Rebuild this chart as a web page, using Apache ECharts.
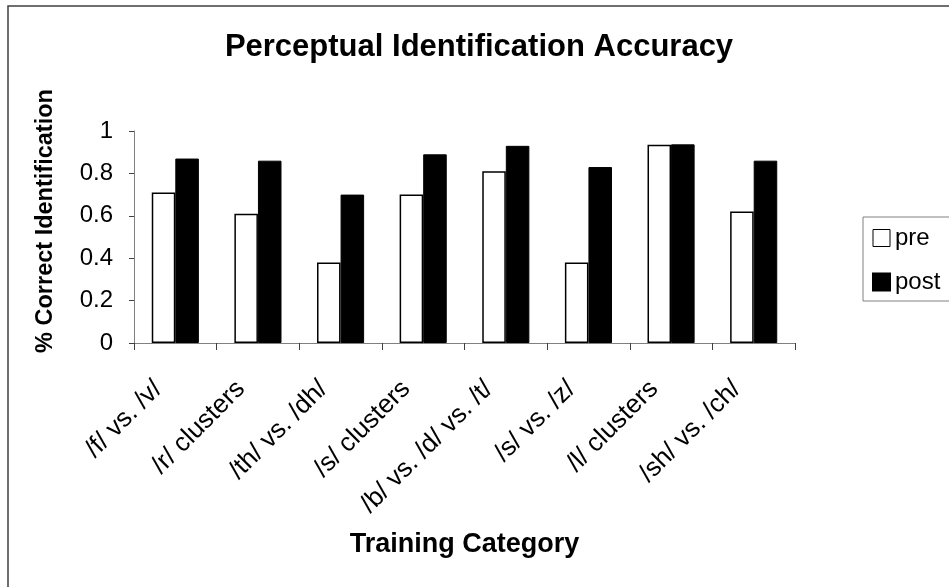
<!DOCTYPE html>
<html>
<head>
<meta charset="utf-8">
<script src="https://cdn.jsdelivr.net/npm/echarts@6/dist/echarts.min.js"></script>
<style>
  html, body { margin: 0; padding: 0; background: #fff; }
  #chart { width: 949px; height: 587px; }
</style>
</head>
<body>
<div id="chart"></div>
<script>
// Training categories along the x axis
const categories = ['/f/ vs. /v/', '/r/ clusters', '/th/ vs. /dh/', '/s/ clusters',
  '/b/ vs. /d/ vs. /t/', '/s/ vs. /z/', '/l/ clusters', '/sh/ vs. /ch/'];
// Proportion correct before and after training
const preValues = [0.71, 0.61, 0.38, 0.70, 0.81, 0.38, 0.935, 0.62];
const postValues = [0.87, 0.86, 0.70, 0.89, 0.93, 0.83, 0.937, 0.86];
const yTicks = [0, 0.2, 0.4, 0.6, 0.8, 1];

const FONT = '"Liberation Sans", Arial, sans-serif';
const chart = echarts.init(document.getElementById('chart'));

chart.setOption({
  backgroundColor: '#fff',
  animation: false,
  title: {
    text: 'Perceptual Identification Accuracy',
    left: 474,
    top: 27,
    textAlign: 'center',
    textStyle: { fontFamily: FONT, fontSize: 31, fontWeight: 'bold', color: '#000' }
  },
  legend: {
    orient: 'vertical',
    left: 863,
    top: 217,
    padding: [9, 10, 7, 9],
    itemGap: 20,
    itemWidth: 17,
    itemHeight: 17,
    borderColor: '#808080',
    borderWidth: 1,
    icon: 'rect',
    textStyle: { fontFamily: FONT, fontSize: 24, color: '#000' },
    data: [
      { name: 'pre', itemStyle: { color: '#fff', borderColor: '#000', borderWidth: 1 } },
      { name: 'post', itemStyle: { color: '#000' } }
    ]
  },
  grid: { left: 134, right: 154, top: 131, bottom: 244, containLabel: false },
  xAxis: {
    type: 'category',
    data: categories,
    name: 'Training Category',
    nameLocation: 'middle',
    nameGap: 188,
    nameTextStyle: { fontFamily: FONT, fontSize: 27, fontWeight: 'bold', color: '#000' },
    axisLine: { lineStyle: { color: '#808080', width: 1 } },
    axisTick: { show: true, length: 7, alignWithLabel: false, lineStyle: { color: '#404040' } },
    axisLabel: {
      rotate: 45, interval: 0, margin: 25, fontFamily: FONT, fontSize: 26, color: '#000',
      padding: [0, 24, 0, 0]
    }
  },
  yAxis: {
    type: 'value',
    min: 0,
    max: 1,
    interval: 0.2,
    name: '% Correct Identification',
    nameLocation: 'middle',
    nameGap: 76,
    nameTextStyle: { fontFamily: FONT, fontSize: 23.5, fontWeight: 'bold', color: '#000', padding: [0, 0, 0, 32] },
    splitLine: { show: false },
    axisLine: { show: true, lineStyle: { color: '#808080', width: 1 } },
    axisTick: { show: true, length: 5, lineStyle: { color: '#404040' } },
    axisLabel: {
      margin: 21, fontFamily: FONT, fontSize: 24, color: '#000',
      formatter: v => (yTicks.indexOf(v) >= 0 ? String(v) : '')
    }
  },
  series: [
    {
      name: 'pre',
      type: 'bar',
      data: preValues,
      barGap: '0%',
      barCategoryGap: '43%',
      itemStyle: { color: '#fff', borderColor: '#000', borderWidth: 1.5 }
    },
    {
      name: 'post',
      type: 'bar',
      data: postValues,
      barGap: '0%',
      barCategoryGap: '43%',
      itemStyle: { color: '#000', borderColor: '#000', borderWidth: 1 }
    }
  ],
  graphic: [
    {
      type: 'rect',
      shape: { x: 8, y: 6, width: 1000, height: 700 },
      style: { fill: 'none', stroke: '#404040', lineWidth: 1.5 },
      silent: true,
      z: -1
    }
  ]
});
</script>
</body>
</html>
